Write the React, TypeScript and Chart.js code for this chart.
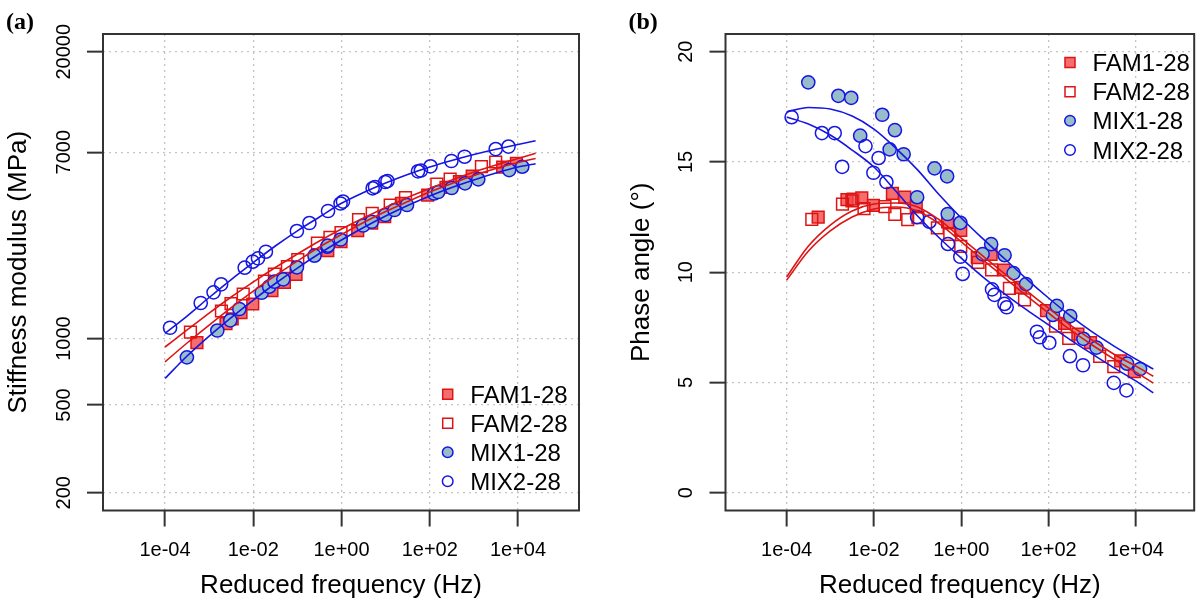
import React, { useEffect, useRef } from "react";
import { Chart, registerables } from "chart.js";

Chart.register(...registerables);

const SANS = '"Liberation Sans", Arial, Helvetica, sans-serif';
const SERIF = '"Liberation Serif", "Times New Roman", serif';

// ---------- data ----------
const seriesNames = ["FAM1-28", "FAM2-28", "MIX1-28", "MIX2-28"];

// measured points: reduced frequency (Hz), stiffness modulus (MPa), phase angle (deg)
const freqFAM1 = [5.28e-4, 2.41e-3, 3.33e-3, 5.27e-3, 9.73e-3, 2.65e-2, 5.08e-2, 9.31e-2, 0.488, 0.975, 2.33, 4.83, 9.53, 22.8, 89.9, 233, 470, 916, 4498, 9204];
const modFAM1 = [958, 1170, 1230, 1310, 1435, 1649, 1800, 1956, 2508, 2750, 3085, 3343, 3571, 4100, 4478, 4850, 5150, 5450, 5998, 6235];
const phaseFAM1 = [12.5, 13.29, 13.31, 13.37, 13.03, 13.58, 13.4, 12.96, 12.28, 11.9, 10.66, 10.81, 10.1, 9.31, 8.26, 7.68, 7.19, 6.81, 5.98, 5.49];

const freqFAM2 = [3.77e-4, 1.9e-3, 3.13e-3, 5.92e-3, 1.79e-2, 3.01e-2, 5.94e-2, 0.102, 0.284, 0.546, 0.975, 2.43, 4.97, 12.7, 28.2, 145, 290, 1483, 3126];
const modFAM2 = [1069, 1334, 1440, 1593, 1824, 1960, 2118, 2284, 2713, 2880, 3027, 3467, 3700, 4035, 4364, 5023, 5293, 6017, 6322];
const phaseFAM2 = [12.4, 13.09, 13.24, 12.88, 12.97, 12.62, 12.38, 12.48, 12.01, 11.71, 11.17, 10.45, 10.11, 9.27, 8.75, 7.56, 7.0, 6.18, 5.72];

const freqMIX1 = [3.13e-4, 1.53e-3, 3.02e-3, 4.84e-3, 1.55e-2, 2.29e-2, 3.02e-2, 4.79e-2, 9.77e-2, 0.244, 0.475, 0.49, 0.955, 3.09, 4.85, 9.84, 15.8, 30.5, 126, 155, 314, 630, 1259, 6310, 12500];
const modMIX1 = [822, 1088, 1210, 1362, 1614, 1719, 1811, 1857, 2105, 2376, 2610, 2640, 2814, 3257, 3388, 3635, 3829, 4035, 4549, 4621, 4819, 5061, 5277, 5813, 6017];
const phaseMIX1 = [18.61, 18.0, 17.91, 16.19, 17.14, 15.57, 16.44, 15.35, 13.4, 14.71, 14.35, 12.64, 12.24, 10.82, 11.27, 10.77, 9.96, 9.46, 8.06, 8.47, 8.01, 6.98, 6.58, 5.85, 5.61];

const freqMIX2 = [1.3e-4, 6.44e-4, 1.26e-3, 1.87e-3, 6.4e-3, 9.73e-3, 1.28e-2, 1.93e-2, 9.73e-2, 0.187, 0.495, 0.951, 1.08, 5.08, 5.75, 9.77, 11.0, 54.2, 63.1, 104, 309, 617, 3126, 6095];
const modMIX2 = [1120, 1450, 1621, 1763, 2096, 2232, 2312, 2477, 3075, 3343, 3790, 4099, 4183, 4803, 4869, 5130, 5183, 5736, 5784, 6044, 6388, 6680, 7239, 7430];
const phaseMIX2 = [17.03, 16.31, 16.31, 14.78, 15.72, 14.51, 15.18, 14.09, 12.5, 12.29, 11.28, 10.7, 9.92, 9.22, 8.97, 8.56, 8.41, 7.3, 7.05, 6.8, 6.19, 5.78, 4.98, 4.64];

// fitted master curves
const curveFreq = [1e-4, 3.162e-4, 1e-3, 3.162e-3, 1e-2, 3.162e-2, 0.1, 0.3162, 1, 3.162, 10, 31.62, 100, 316.2, 1000, 3162, 10000, 25120];
const curveModFAM1 = [785, 955, 1152, 1383, 1643, 1932, 2248, 2602, 2965, 3361, 3770, 4183, 4620, 5050, 5489, 5906, 6286, 6556];
const curveModFAM2 = [916, 1094, 1306, 1544, 1805, 2101, 2418, 2770, 3140, 3523, 3930, 4364, 4793, 5238, 5694, 6126, 6556, 6921];
const curveModMIX1 = [660, 834, 1027, 1246, 1496, 1778, 2089, 2431, 2799, 3190, 3596, 4013, 4433, 4843, 5238, 5635, 5998, 6209];
const curveModMIX2 = [1057, 1266, 1536, 1853, 2213, 2630, 3082, 3558, 4107, 4597, 5076, 5548, 5998, 6422, 6836, 7225, 7588, 7897];
const curvePhaseFAM1 = [9.78, 11.19, 12.14, 12.78, 13.09, 13.14, 12.96, 12.37, 11.55, 10.73, 9.92, 9.15, 8.37, 7.6, 6.92, 6.28, 5.74, 5.28];
const curvePhaseFAM2 = [9.64, 10.96, 11.87, 12.5, 12.87, 12.96, 12.78, 12.19, 11.38, 10.56, 9.74, 8.93, 8.15, 7.38, 6.7, 6.06, 5.47, 4.97];
const curvePhaseMIX1 = [17.27, 17.47, 17.4, 17.08, 16.49, 15.63, 14.64, 13.5, 12.46, 11.51, 10.6, 9.69, 8.83, 8.02, 7.29, 6.65, 6.06, 5.61];
const curvePhaseMIX2 = [17.04, 16.72, 16.22, 15.54, 14.77, 13.68, 12.55, 11.55, 10.64, 9.78, 9.01, 8.29, 7.61, 6.93, 6.29, 5.66, 5.07, 4.53];

// axes
const xTickValues = [1e-4, 1e-2, 1, 1e2, 1e4];
const xTickLabels = ["1e-04", "1e-02", "1e+00", "1e+02", "1e+04"];
const modTickValues = [200, 500, 1000, 7000, 20000];
const modTickLabels = ["200", "500", "1000", "7000", "20000"];
const phaseTickValues = [0, 5, 10, 15, 20];
const phaseTickLabels = ["0", "5", "10", "15", "20"];

// ---------- styles ----------
const RED = "rgb(222,20,20)";
const RED_FILL = "rgba(242,72,72,0.8)";
const BLUE = "rgb(22,22,228)";
const BLUE_FILL = "rgb(152,188,201)";
const NONE = "rgba(0,0,0,0)";

const seriesStyle = [
  { shape: "rect", fill: RED_FILL, stroke: RED },
  { shape: "rect", fill: NONE, stroke: RED },
  { shape: "circle", fill: BLUE_FILL, stroke: BLUE },
  { shape: "circle", fill: NONE, stroke: BLUE },
];

function buildDatasets(freqs: number[][], vals: number[][], curves: number[][]) {
  const ds: any[] = [];
  freqs.forEach((f, i) => {
    const st = seriesStyle[i];
    ds.push({
      label: seriesNames[i],
      data: f.map((x, k) => ({ x, y: vals[i][k] })),
      pointStyle: st.shape,
      pointRadius: st.shape === "rect" ? 8.3 : 6.6,
      backgroundColor: st.fill,
      borderColor: st.stroke,
      borderWidth: 1.5,
      showLine: false,
      order: 10 - i,
    });
  });
  curves.forEach((c, i) => {
    ds.push({
      label: seriesNames[i] + " fit",
      data: curveFreq.map((x, k) => ({ x, y: c[k] })),
      showLine: true,
      pointRadius: 0,
      borderColor: seriesStyle[i].stroke,
      borderWidth: 1.6,
      backgroundColor: NONE,
      cubicInterpolationMode: "monotone",
      fill: false,
      order: 1,
    });
  });
  return ds;
}

type PanelCfg = {
  yType: "logarithmic" | "linear";
  yMin: number;
  yMax: number;
  xMin: number;
  xMax: number;
  yTicks: number[];
  yLabels: string[];
  yTitle: string;
  panelLabel: string;
  padRight: number;
  yWidth: number;
  legendX: number;
  legendRows: number[];
};

function decorPlugin(cfg: PanelCfg) {
  return {
    id: "decor",
    afterDraw(chart: any) {
      const { ctx, chartArea: a } = chart;
      const x = chart.scales.x;
      const y = chart.scales.y;
      ctx.save();
      // box
      ctx.strokeStyle = "#333";
      ctx.lineWidth = 2;
      ctx.setLineDash([]);
      ctx.strokeRect(a.left, a.top, a.right - a.left, a.bottom - a.top);

      ctx.fillStyle = "#000";
      ctx.font = `20px ${SANS}`;
      ctx.textAlign = "center";
      ctx.textBaseline = "alphabetic";
      xTickValues.forEach((v, i) => {
        ctx.fillText(xTickLabels[i], x.getPixelForValue(v), a.bottom + 45.5);
      });
      cfg.yTicks.forEach((v, i) => {
        const py = y.getPixelForValue(v);
        ctx.save();
        ctx.translate(a.left - 33.4, py);
        ctx.rotate(-Math.PI / 2);
        ctx.fillText(cfg.yLabels[i], 0, 0);
        ctx.restore();
      });

      ctx.font = `26px ${SANS}`;
      ctx.fillText("Reduced frequency (Hz)", (a.left + a.right) / 2, a.bottom + 82);
      ctx.save();
      ctx.translate(a.left - 77, (a.top + a.bottom) / 2);
      ctx.rotate(-Math.PI / 2);
      ctx.fillText(cfg.yTitle, 0, 0);
      ctx.restore();

      ctx.font = `bold 24px ${SERIF}`;
      ctx.textAlign = "left";
      ctx.fillText(cfg.panelLabel, a.left - 97, 28.5);

      // legend
      ctx.font = `24px ${SANS}`;
      seriesNames.forEach((name, i) => {
        const st = seriesStyle[i];
        const cy = cfg.legendRows[i];
        const cx = cfg.legendX;
        ctx.lineWidth = 1.5;
        ctx.strokeStyle = st.stroke;
        ctx.fillStyle = st.fill;
        if (st.shape === "rect") {
          ctx.beginPath();
          ctx.rect(cx - 5, cy - 5, 10, 10);
          ctx.fill();
          ctx.stroke();
        } else {
          ctx.beginPath();
          ctx.arc(cx, cy, 5.3, 0, Math.PI * 2);
          ctx.fill();
          ctx.stroke();
        }
        ctx.fillStyle = "#000";
        ctx.fillText(name, cx + 22.5, cy + 8.5);
      });
      ctx.restore();
    },
  };
}

function makeConfig(cfg: PanelCfg, datasets: any[]) {
  return {
    type: "scatter" as const,
    data: { datasets },
    options: {
      animation: false as const,
      responsive: false,
      maintainAspectRatio: false,
      devicePixelRatio: 1,
      layout: { padding: { left: 0, top: 34, right: cfg.padRight, bottom: 0 } },
      plugins: { legend: { display: false }, tooltip: { enabled: false } },
      scales: {
        x: {
          type: "logarithmic" as const,
          min: cfg.xMin,
          max: cfg.xMax,
          afterBuildTicks: (s: any) => {
            s.ticks = xTickValues.map((v) => ({ value: v }));
          },
          afterFit: (s: any) => {
            s.height = 92.5;
          },
          ticks: { display: false },
          border: { display: false, dash: [2, 4] },
          grid: {
            color: "#c4c4c4",
            lineWidth: 1.3,
            drawTicks: true,
            tickLength: 16,
            tickColor: "#333",
            tickWidth: 2,
            tickBorderDash: [],
          },
        },
        y: {
          type: cfg.yType,
          min: cfg.yMin,
          max: cfg.yMax,
          afterBuildTicks: (s: any) => {
            s.ticks = cfg.yTicks.map((v) => ({ value: v }));
          },
          afterFit: (s: any) => {
            s.width = cfg.yWidth;
          },
          ticks: { display: false },
          border: { display: false, dash: [2, 4] },
          grid: {
            color: "#c4c4c4",
            lineWidth: 1.3,
            drawTicks: true,
            tickLength: 16,
            tickColor: "#333",
            tickWidth: 2,
            tickBorderDash: [],
          },
        },
      },
    },
    plugins: [decorPlugin(cfg)],
  };
}

const leftCfg: PanelCfg = {
  yType: "logarithmic",
  yMin: 166.1,
  yMax: 24064,
  xMin: 3.926e-6,
  xMax: 2.415e5,
  yTicks: modTickValues,
  yLabels: modTickLabels,
  yTitle: "Stiffness modulus (MPa)",
  panelLabel: "(a)",
  padRight: 23,
  yWidth: 103,
  legendX: 447.7,
  legendRows: [394.3, 423.3, 452.3, 481.2],
};

const rightCfg: PanelCfg = {
  yType: "linear",
  yMin: -0.807,
  yMax: 20.803,
  xMin: 3.974e-6,
  xMax: 2.173e5,
  yTicks: phaseTickValues,
  yLabels: phaseTickLabels,
  yTitle: "Phase angle (\u00B0)",
  panelLabel: "(b)",
  padRight: 4.7,
  yWidth: 123.5,
  legendX: 468,
  legendRows: [62.5, 91.7, 120.8, 150],
};

export default function App() {
  const leftRef = useRef<HTMLCanvasElement>(null);
  const rightRef = useRef<HTMLCanvasElement>(null);

  useEffect(() => {
    const freqs = [freqFAM1, freqFAM2, freqMIX1, freqMIX2];
    const left = new Chart(
      leftRef.current as HTMLCanvasElement,
      makeConfig(
        leftCfg,
        buildDatasets(freqs, [modFAM1, modFAM2, modMIX1, modMIX2], [curveModFAM1, curveModFAM2, curveModMIX1, curveModMIX2])
      ) as any
    );
    const right = new Chart(
      rightRef.current as HTMLCanvasElement,
      makeConfig(
        rightCfg,
        buildDatasets(freqs, [phaseFAM1, phaseFAM2, phaseMIX1, phaseMIX2], [curvePhaseFAM1, curvePhaseFAM2, curvePhaseMIX1, curvePhaseMIX2])
      ) as any
    );
    return () => {
      left.destroy();
      right.destroy();
    };
  }, []);

  return (
    <div style={{ position: "absolute", left: 0, top: 0, width: 1204, height: 603, background: "#fff", overflow: "hidden" }}>
      <canvas ref={leftRef} width={602} height={603} style={{ position: "absolute", left: 0, top: 0, width: 602, height: 603, display: "block" }} />
      <canvas ref={rightRef} width={602} height={603} style={{ position: "absolute", left: 602, top: 0, width: 602, height: 603, display: "block" }} />
    </div>
  );
}
